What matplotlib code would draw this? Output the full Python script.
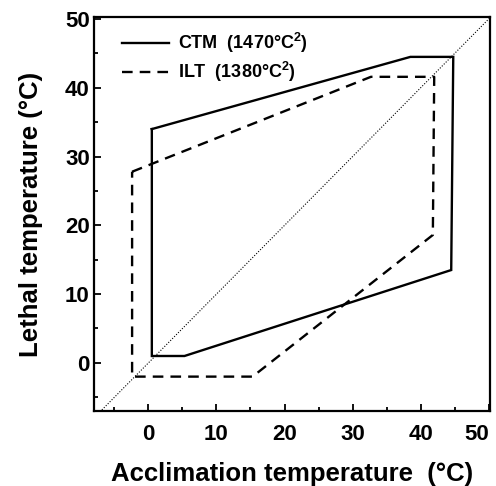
import matplotlib
matplotlib.use("Agg")
import matplotlib.pyplot as plt
from matplotlib.ticker import MultipleLocator

plt.rcParams['font.family'] = ['Liberation Sans', 'DejaVu Sans']
plt.rcParams['font.weight'] = 'bold'
plt.rcParams['mathtext.fontset'] = 'custom'
plt.rcParams['mathtext.bf'] = 'Liberation Sans:bold'
plt.rcParams['mathtext.rm'] = 'Liberation Sans:bold'

# thermal tolerance polygons (acclimation T, lethal T)
ctm_x = [0.5, 38.5, 44.8, 44.5, 5.3, 0.5, 0.5]
ctm_y = [34.0, 44.5, 44.5, 13.5, 1.0, 1.0, 34.0]
ilt_x = [-2.4, 32.7, 42.0, 41.8, 15.3, -2.4, -2.4]
ilt_y = [27.8, 41.6, 41.6, 18.6, -2.0, -2.0, 27.8]
# 1:1 line
diag = [-10, 60]
xticks = [0, 10, 20, 30, 40, 50]
yticks = [0, 10, 20, 30, 40, 50]

fig = plt.figure(figsize=(4.96, 4.86), dpi=100)
ax = fig.add_axes([94 / 496, 1 - 411 / 486, 396 / 496, 394 / 486])

ax.plot(diag, diag, color='black', linestyle=(0, (1, 1.5)), linewidth=0.8)
ax.plot(ctm_x, ctm_y, '-', color='black', linewidth=1.7,
        label=r'CTM  (1470°C$^{\mathbf{2}}$)', solid_joinstyle='miter')
ax.plot(ilt_x, ilt_y, color='black', linewidth=1.7, linestyle=(0, (4.5, 3)),
        label=r'ILT  (1380°C$^{\mathbf{2}}$)')

ax.set_xlim(-8, 50.2)
ax.set_ylim(-7, 50.3)
ax.set_xticks(xticks)
ax.set_yticks(yticks)
ax.xaxis.set_minor_locator(MultipleLocator(5))
ax.yaxis.set_minor_locator(MultipleLocator(5))
ax.tick_params(which='both', direction='in', width=1.3)
ax.tick_params(which='major', length=5)
ax.tick_params(which='minor', length=3)
ax.tick_params(axis='x', which='major', pad=9, labelsize=16)
ax.tick_params(axis='y', which='major', pad=3, labelsize=16)
for s in ax.spines.values():
    s.set_linewidth(1.6)

ax.set_xlabel('Acclimation temperature  (°C)', fontsize=18.5, fontweight='bold')
ax.set_ylabel('Lethal temperature (°C)', fontsize=18.5, fontweight='bold')
ax.xaxis.set_label_coords(0.5, -0.13)
ax.yaxis.set_label_coords(-0.13, 0.5)

ax.legend(loc='upper left', bbox_to_anchor=(0.07, 0.965), frameon=False,
          fontsize=13, handlelength=2.6, handletextpad=0.5,
          labelspacing=0.3, borderpad=0, borderaxespad=0)

# last x tick label sits inside the figure, as in the original
ax.get_xticklabels()[-1].set_horizontalalignment('right')

fig.savefig('out.png', dpi=100)
